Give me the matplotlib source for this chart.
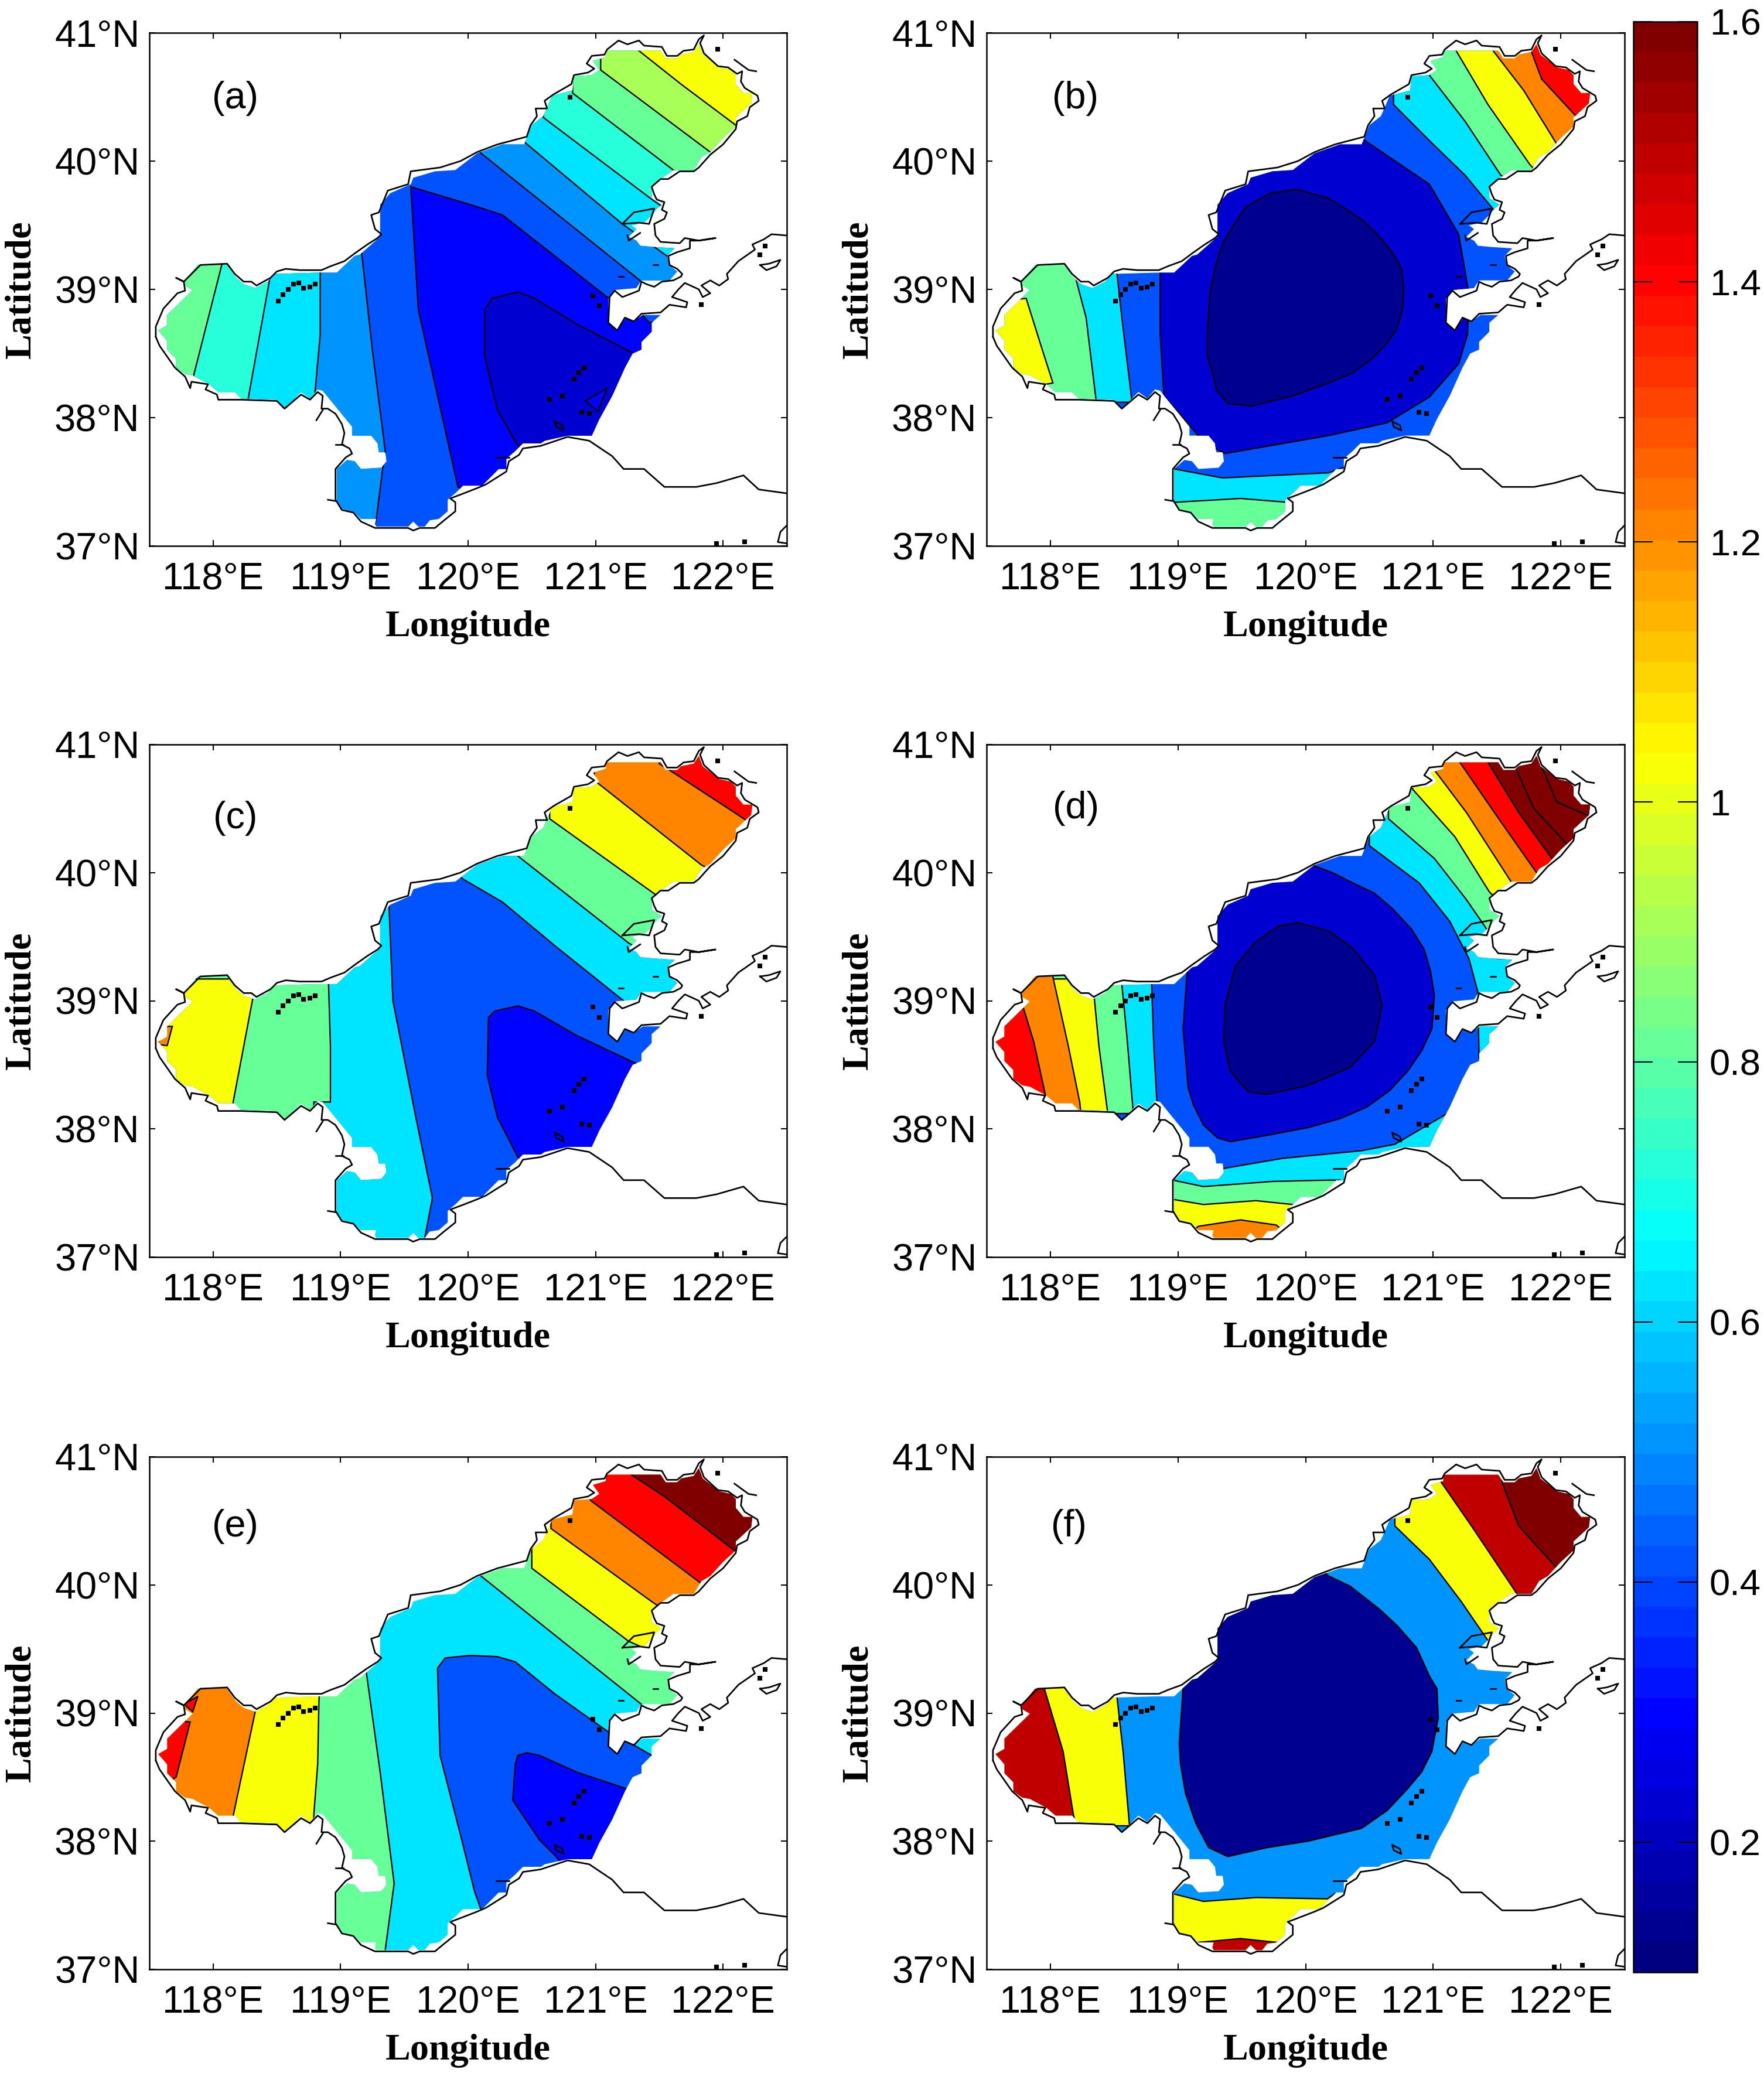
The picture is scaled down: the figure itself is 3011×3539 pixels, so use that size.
import matplotlib
matplotlib.use("Agg")
import matplotlib.pyplot as plt
from matplotlib.cm import ScalarMappable
from matplotlib.colors import LinearSegmentedColormap, Normalize
from matplotlib.patches import Polygon

FIG_W, FIG_H = 3012, 3539
AX_COLS = [(255, 1343), (1684, 2773)]
AX_ROWS = [(56, 932), (1271, 2146), (2487, 3362)]
CBAR_BOX = (2788, 2897, 37, 3367)

lon_ticks = [118, 119, 120, 121, 122]
lat_ticks = [37, 38, 39, 40, 41]
cbar_ticks = [0.2, 0.4, 0.6, 0.8, 1.0, 1.2, 1.4, 1.6]
cbar_labels = ["0.2", "0.4", "0.6", "0.8", "1", "1.2", "1.4", "1.6"]

# wet cells of the model, lon/lat
sea = [
    (117.57, 38.68), (117.64, 38.72), (117.64, 38.80), (117.84, 38.995), (117.78, 39.03), (117.78, 39.07),
    (117.88, 39.19), (118.10, 39.20), (118.18, 39.09), (118.24, 39.04), (118.33, 39.01), (118.43, 39.06),
    (118.48, 39.12), (118.82, 39.13), (118.97, 39.13), (119.11, 39.26), (119.15, 39.27), (119.31, 39.41),
    (119.31, 39.66), (119.39, 39.75), (119.55, 39.82), (119.57, 39.87), (119.74, 39.92), (119.90, 39.93),
    (120.07, 40.06), (120.27, 40.13), (120.44, 40.13), (120.46, 40.18), (120.50, 40.28), (120.59, 40.35),
    (120.66, 40.51), (120.82, 40.55), (120.83, 40.66), (120.97, 40.67), (121.03, 40.71), (120.98, 40.78),
    (121.08, 40.81), (121.08, 40.86), (121.51, 40.86), (121.55, 40.80), (121.64, 40.80), (121.67, 40.83),
    (121.77, 40.85), (121.81, 40.91), (121.84, 40.83), (121.97, 40.73), (122.06, 40.71), (122.10, 40.67),
    (122.10, 40.60), (122.16, 40.53), (122.23, 40.53), (122.22, 40.45), (122.10, 40.34), (122.10, 40.27),
    (122.00, 40.18), (121.90, 40.07), (121.83, 40.03), (121.77, 39.93), (121.61, 39.93), (121.44, 39.81),
    (121.44, 39.71), (121.52, 39.66), (121.48, 39.63), (121.44, 39.58), (121.38, 39.52), (121.28, 39.50),
    (121.32, 39.47), (121.26, 39.41), (121.32, 39.38), (121.35, 39.34), (121.46, 39.33), (121.62, 39.32),
    (121.56, 39.26), (121.57, 39.22), (121.60, 39.17), (121.64, 39.14), (121.58, 39.07), (121.36, 39.07),
    (121.32, 39.01), (121.16, 38.996), (121.10, 38.93), (121.10, 38.74), (121.17, 38.68), (121.24, 38.78),
    (121.30, 38.75), (121.37, 38.80), (121.51, 38.80), (121.44, 38.74), (121.44, 38.67), (121.36, 38.59),
    (121.36, 38.53), (121.29, 38.50), (121.23, 38.39), (121.13, 38.17), (121.03, 37.99), (120.97, 37.86),
    (120.78, 37.86), (120.60, 37.82), (120.57, 37.80), (120.43, 37.80), (120.37, 37.74), (120.30, 37.68),
    (120.30, 37.60), (120.24, 37.60), (120.11, 37.47), (119.96, 37.47), (119.91, 37.42), (119.84, 37.36),
    (119.84, 37.27), (119.77, 37.21), (119.70, 37.20), (119.66, 37.15), (119.61, 37.15), (119.57, 37.19),
    (119.53, 37.15), (119.28, 37.15), (119.27, 37.17), (119.28, 37.21), (119.16, 37.21), (119.11, 37.26),
    (119.01, 37.29), (118.97, 37.35), (118.97, 37.60), (119.05, 37.67), (119.11, 37.66), (119.16, 37.60),
    (119.32, 37.61), (119.36, 37.66), (119.35, 37.73), (119.30, 37.73), (119.29, 37.80), (119.24, 37.86),
    (119.09, 37.86), (119.09, 37.93), (118.86, 38.21), (118.82, 38.22), (118.76, 38.15), (118.69, 38.20),
    (118.56, 38.07), (118.50, 38.14), (118.22, 38.15), (118.17, 38.20), (118.04, 38.20), (117.97, 38.26),
    (117.84, 38.33), (117.78, 38.34), (117.71, 38.39), (117.71, 38.46), (117.64, 38.53), (117.64, 38.60),
]

coast_north = [
    (117.55, 38.63), (117.55, 38.71), (117.61, 38.85), (117.72, 38.97), (117.78, 38.99), (117.77, 39.06),
    (117.71, 39.09), (117.77, 39.06), (117.90, 39.19), (118.11, 39.20), (118.17, 39.12), (118.24, 39.06),
    (118.30, 39.06), (118.34, 39.03), (118.45, 39.09), (118.50, 39.14), (118.57, 39.16), (118.68, 39.15),
    (118.85, 39.15), (118.92, 39.18), (119.03, 39.22), (119.11, 39.28), (119.21, 39.35), (119.29, 39.40),
    (119.32, 39.43), (119.27, 39.47), (119.24, 39.58), (119.30, 39.60), (119.37, 39.77), (119.53, 39.82),
    (119.55, 39.92), (119.78, 39.95), (119.94, 40.00), (120.07, 40.07), (120.23, 40.13), (120.46, 40.19),
    (120.49, 40.28), (120.54, 40.35), (120.53, 40.41), (120.62, 40.41), (120.60, 40.47), (120.67, 40.52),
    (120.81, 40.60), (120.83, 40.67), (120.94, 40.69), (120.99, 40.72), (120.93, 40.76), (120.97, 40.82),
    (121.07, 40.83), (121.09, 40.87), (121.18, 40.94), (121.25, 40.91), (121.34, 40.94), (121.38, 40.90),
    (121.52, 40.89), (121.56, 40.82), (121.64, 40.82), (121.69, 40.86), (121.77, 40.87), (121.81, 40.95),
    (121.85, 40.98), (121.82, 40.92), (121.85, 40.84), (121.96, 40.74), (122.04, 40.73), (122.11, 40.68),
    (122.15, 40.70), (122.14, 40.62), (122.17, 40.57), (122.27, 40.51), (122.28, 40.47), (122.21, 40.42),
    (122.19, 40.35), (122.11, 40.31), (122.10, 40.25), (122.00, 40.13), (121.90, 40.05), (121.81, 39.95),
    (121.77, 39.92), (121.66, 39.92), (121.57, 39.86), (121.51, 39.86), (121.44, 39.80), (121.46, 39.74),
    (121.48, 39.70), (121.54, 39.68), (121.52, 39.62), (121.56, 39.60), (121.54, 39.55), (121.46, 39.51),
    (121.47, 39.42), (121.51, 39.37), (121.66, 39.36), (121.70, 39.40), (121.81, 39.38), (121.94, 39.40),
    (121.81, 39.38), (121.74, 39.38), (121.74, 39.32), (121.64, 39.29), (121.57, 39.26), (121.58, 39.19),
    (121.64, 39.16), (121.68, 39.12), (121.67, 39.10), (121.61, 39.07), (121.52, 39.06), (121.46, 39.02),
    (121.40, 39.04), (121.36, 39.06), (121.34, 38.99), (121.21, 38.94), (121.15, 38.99), (121.11, 38.94),
    (121.10, 38.74), (121.17, 38.68), (121.23, 38.78), (121.30, 38.75), (121.36, 38.81), (121.51, 38.82),
    (121.58, 38.88), (121.71, 38.86), (121.72, 38.90), (121.60, 38.94), (121.65, 39.00), (121.70, 39.05),
    (121.81, 39.00), (121.84, 38.94), (121.90, 38.97), (121.83, 39.03), (121.90, 39.07), (121.97, 39.03),
    (122.04, 39.08), (122.03, 39.12), (122.12, 39.22), (122.25, 39.31), (122.23, 39.35), (122.32, 39.39),
    (122.38, 39.43), (122.50, 39.42),
]
coast_south = [
    (117.55, 38.63), (117.58, 38.56), (117.70, 38.39), (117.78, 38.32), (117.82, 38.23), (117.83, 38.28),
    (117.96, 38.26), (117.94, 38.22), (118.03, 38.18), (118.04, 38.14), (118.22, 38.14), (118.50, 38.13),
    (118.56, 38.07), (118.69, 38.18), (118.76, 38.14), (118.82, 38.20), (118.86, 38.17), (118.85, 38.07),
    (118.90, 38.07), (118.96, 38.03), (119.01, 37.95), (119.03, 37.88), (119.01, 37.79), (119.07, 37.76),
    (119.09, 37.72), (119.04, 37.69), (118.96, 37.60), (118.96, 37.36), (119.01, 37.28), (119.10, 37.26),
    (119.16, 37.19), (119.27, 37.14), (119.53, 37.14), (119.57, 37.12), (119.62, 37.14), (119.74, 37.14),
    (119.80, 37.19), (119.90, 37.27), (119.90, 37.34), (119.86, 37.37), (119.94, 37.40), (120.07, 37.45),
    (120.14, 37.48), (120.30, 37.58), (120.32, 37.66), (120.40, 37.71), (120.43, 37.76), (120.57, 37.78),
    (120.78, 37.85), (120.95, 37.82), (121.13, 37.70), (121.22, 37.60), (121.38, 37.60), (121.54, 37.46),
    (121.79, 37.46), (121.95, 37.49), (122.16, 37.55), (122.28, 37.44), (122.50, 37.41),
]
coast_bits = [
    [(122.50, 37.16), (122.45, 37.11), (122.43, 37.03), (122.50, 37.02)],
    [(122.09, 40.79), (122.20, 40.71), (122.26, 40.70)],
    [(121.21, 39.51), (121.30, 39.60), (121.46, 39.63), (121.42, 39.51), (121.34, 39.52), (121.21, 39.51)],
    [(121.25, 39.42), (121.26, 39.38), (121.35, 39.44)],
    [(122.29, 39.19), (122.34, 39.15), (122.42, 39.18), (122.45, 39.23), (122.36, 39.20), (122.29, 39.19)],
    [(120.22, 37.69), (120.32, 37.69)],
    [(118.96, 37.79), (119.02, 37.79)],
    [(118.81, 37.98), (118.86, 38.06)],
    [(118.90, 37.36), (118.96, 37.35)],
    [(121.18, 39.10), (121.22, 39.10)],
    [(121.45, 39.19), (121.49, 39.19)],
    [(120.68, 37.97), (120.74, 37.94), (120.75, 37.90), (120.69, 37.93), (120.68, 37.97)],
]

island_lon = [118.51, 118.55, 118.59, 118.63, 118.67, 118.71, 118.76, 118.80, 120.83, 120.87, 120.91, 120.74,
              120.64, 120.89, 120.95, 120.98, 121.03, 120.80, 121.96, 121.83, 122.29, 122.33, 121.95, 122.17]
island_lat = [38.91, 38.96, 39.00, 39.04, 39.05, 39.01, 39.02, 39.04, 38.30, 38.35, 38.39, 38.17,
              38.14, 38.04, 38.03, 38.95, 38.87, 40.50, 40.87, 38.88, 39.27, 39.34, 37.02, 37.03]

# bands are (value, side, outline); side says how the outline closes beyond the coast
base_a = 0.405
bands_a = [
    (0.29, "closed", [(119.55, 39.80), (120.02, 39.66), (120.27, 39.58), (121.09, 38.94), (121.25, 38.85),
                      (121.37, 38.80), (121.42, 38.74), (121.54, 38.76), (121.67, 38.71), (122.08, 37.67),
                      (120.44, 37.18), (119.92, 37.46), (119.61, 38.84)]),
    (0.22, "closed", [(120.13, 38.48), (120.13, 38.84), (120.19, 38.93), (120.39, 38.98), (120.52, 38.93),
                      (120.85, 38.73), (121.30, 38.50), (121.67, 38.39), (122.08, 37.67), (120.85, 37.34),
                      (120.39, 37.78), (120.23, 38.06)]),
    (0.29, "closed", [(120.92, 38.13), (121.09, 38.23), (121.02, 38.05)]),
    (0.52, "w", [(119.14, 39.45), (119.16, 39.33), (119.25, 38.52), (119.35, 37.74), (119.33, 37.60),
                 (119.28, 37.21), (119.20, 36.95)]),
    (0.62, "w", [(118.84, 39.30), (118.84, 38.65), (118.80, 38.21), (118.79, 37.99)]),
    (0.71, "w", [(118.49, 39.30), (118.46, 39.17), (118.27, 38.12)]),
    (0.81, "w", [(118.10, 39.30), (118.07, 39.20), (117.85, 38.34), (117.81, 38.12)]),
    (0.52, "ne", [(120.09, 40.07), (121.36, 39.06), (121.67, 38.91)]),
    (0.62, "ne", [(120.44, 40.15), (121.21, 39.51), (121.56, 39.26), (121.66, 39.19)]),
    (0.71, "ne", [(120.59, 40.34), (121.43, 39.71), (121.67, 39.54)]),
    (0.81, "ne", [(120.82, 40.53), (121.61, 39.93), (121.83, 39.77)]),
    (0.92, "ne", [(121.04, 40.71), (121.90, 40.07), (122.08, 39.92)]),
    (1.015, "ne", [(121.24, 40.93), (121.34, 40.86), (121.67, 40.60), (122.10, 40.28), (122.28, 40.15)]),
]

base_b = 0.405
bands_b = [
    (0.22, "closed", [(118.86, 39.30), (118.86, 38.65), (118.89, 38.17), (119.21, 37.80), (119.37, 37.72),
                      (120.18, 37.86), (120.64, 37.96), (120.97, 38.16), (121.20, 38.42), (121.27, 38.65),
                      (121.28, 38.97), (121.20, 39.43), (120.97, 39.82), (120.48, 40.15), (120.32, 40.28),
                      (119.58, 40.11)]),
    (0.13, "closed", [(119.93, 39.78), (120.18, 39.71), (120.31, 39.63), (120.46, 39.53), (120.58, 39.41),
                      (120.67, 39.30), (120.75, 39.17), (120.77, 39.01), (120.76, 38.84), (120.71, 38.68),
                      (120.62, 38.56), (120.51, 38.45), (120.37, 38.35), (120.18, 38.27), (119.90, 38.17),
                      (119.58, 38.09), (119.39, 38.11), (119.30, 38.22), (119.28, 38.32), (119.23, 38.48),
                      (119.23, 38.65), (119.25, 38.97), (119.30, 39.20), (119.35, 39.36), (119.43, 39.49),
                      (119.53, 39.64), (119.72, 39.75)]),
    (0.62, "w", [(118.51, 39.23), (118.56, 38.78), (118.64, 38.12)]),
    (0.81, "w", [(118.16, 39.23), (118.28, 38.78), (118.36, 38.12)]),
    (1.015, "closed", [(117.81, 38.93), (117.93, 38.55), (118.02, 38.27), (117.72, 38.22), (117.26, 38.65),
                       (117.63, 38.91)]),
    (0.62, "ne", [(120.69, 40.44), (120.97, 40.16), (121.25, 39.89), (121.50, 39.59), (121.71, 39.36)]),
    (0.81, "ne", [(120.97, 40.67), (121.25, 40.31), (121.53, 39.89), (121.60, 39.85)]),
    (1.015, "ne", [(121.18, 40.86), (121.43, 40.44), (121.76, 39.97), (121.90, 39.82)]),
    (1.206, "ne", [(121.47, 40.86), (121.71, 40.55), (121.97, 40.13), (122.08, 39.99)]),
    (1.41, "ne", [(121.76, 40.88), (121.85, 40.64), (122.11, 40.36), (122.27, 40.28)]),
    (0.62, "s", [(118.84, 37.64), (118.97, 37.60), (119.35, 37.53), (119.76, 37.55), (120.18, 37.57), (120.32, 37.62)]),
    (0.81, "s", [(118.84, 37.36), (118.97, 37.34), (119.49, 37.37), (119.86, 37.34), (119.95, 37.32)]),
]

base_c = 0.405
bands_c = [
    (0.29, "closed", [(120.16, 38.87), (120.21, 38.92), (120.39, 38.96), (120.52, 38.92), (120.85, 38.73),
                      (121.32, 38.51), (121.67, 38.39), (122.08, 37.67), (120.85, 37.34), (120.39, 37.78),
                      (120.23, 38.09), (120.15, 38.42)]),
    (0.62, "w", [(119.38, 39.82), (119.38, 39.72), (119.41, 39.00), (119.59, 38.09), (119.72, 37.46),
                 (119.66, 37.15), (119.61, 36.95)]),
    (0.81, "w", [(118.90, 39.30), (118.92, 38.65), (118.92, 38.21), (118.79, 38.21), (118.79, 38.00)]),
    (1.015, "w", [(118.34, 39.17), (118.14, 38.12)]),
    (1.206, "closed", [(117.64, 38.80), (117.68, 38.80), (117.64, 38.65), (117.56, 38.66)]),
    (0.62, "ne", [(119.90, 40.00), (119.96, 39.95), (120.27, 39.77), (120.68, 39.43), (121.22, 39.00), (121.34, 38.91)]),
    (0.81, "ne", [(120.39, 40.13), (121.26, 39.45), (121.46, 39.34), (121.71, 39.33)]),
    (1.015, "ne", [(120.64, 40.42), (121.44, 39.85), (121.67, 39.69)]),
    (1.206, "ne", [(120.99, 40.72), (121.83, 40.06), (122.04, 39.95)]),
    (1.41, "ne", [(121.50, 40.85), (121.58, 40.80), (122.18, 40.41), (122.41, 40.28)]),
]

base_d = 0.405
bands_d = [
    (0.22, "closed", [(119.07, 39.30), (119.07, 39.20), (119.04, 38.78), (119.06, 38.55), (119.08, 38.32),
                      (119.12, 38.19), (119.20, 38.03), (119.31, 37.93), (119.41, 37.90), (119.70, 37.95),
                      (120.02, 38.01), (120.27, 38.08), (120.48, 38.17), (120.66, 38.30), (120.80, 38.45),
                      (120.91, 38.61), (120.99, 38.78), (121.01, 39.04), (120.98, 39.23), (120.93, 39.40),
                      (120.83, 39.56), (120.68, 39.72), (120.54, 39.84), (120.35, 39.93), (120.21, 40.00),
                      (120.05, 40.06), (119.94, 40.18), (119.20, 39.79)]),
    (0.13, "closed", [(119.94, 39.61), (120.19, 39.54), (120.37, 39.41), (120.54, 39.20), (120.60, 38.97),
                      (120.54, 38.68), (120.35, 38.48), (120.02, 38.34), (119.70, 38.27), (119.55, 38.29),
                      (119.41, 38.45), (119.36, 38.68), (119.37, 38.97), (119.45, 39.27), (119.61, 39.46),
                      (119.78, 39.58)]),
    (0.62, "w", [(118.79, 39.23), (118.81, 38.65), (118.84, 38.12)]),
    (0.81, "w", [(118.55, 39.23), (118.60, 38.72), (118.65, 38.12)]),
    (1.015, "w", [(118.33, 39.17), (118.38, 38.65), (118.45, 38.12)]),
    (1.206, "w", [(118.01, 39.23), (118.14, 38.65), (118.23, 38.21), (118.24, 38.12)]),
    (1.41, "closed", [(117.79, 38.94), (117.87, 38.68), (117.96, 38.27), (117.99, 38.12), (117.48, 38.12),
                      (117.32, 38.65), (117.64, 38.97)]),
    (0.62, "ne", [(120.50, 40.21), (120.89, 39.92), (121.13, 39.62), (121.28, 39.33), (121.35, 39.07), (121.36, 38.55)]),
    (0.81, "ne", [(120.65, 40.42), (121.01, 40.11), (121.26, 39.79), (121.44, 39.53), (121.50, 39.33), (121.71, 39.33)]),
    (1.015, "ne", [(120.84, 40.65), (121.17, 40.28), (121.44, 39.85), (121.54, 39.75)]),
    (1.206, "ne", [(121.01, 40.80), (121.26, 40.47), (121.61, 39.93), (121.71, 39.85)]),
    (1.41, "ne", [(121.21, 40.86), (121.50, 40.44), (121.81, 40.00), (121.91, 39.92)]),
    (1.6, "ne", [(121.43, 40.86), (121.67, 40.47), (121.93, 40.11), (122.08, 39.98)]),
    (1.6, "ne", [(121.65, 40.81), (121.79, 40.50), (122.06, 40.21), (122.16, 40.13)]),
    (1.6, "ne", [(121.85, 40.83), (121.97, 40.55), (122.23, 40.44)]),
    (0.62, "s", [(118.79, 37.68), (119.35, 37.69), (119.82, 37.77), (120.44, 37.83), (120.70, 37.88),
                 (121.11, 38.12), (121.67, 38.12)]),
    (0.81, "s", [(118.96, 37.60), (119.20, 37.55), (119.74, 37.59), (120.17, 37.60), (120.27, 37.60)]),
    (1.015, "s", [(118.96, 37.45), (119.20, 37.41), (119.61, 37.44), (119.90, 37.41), (120.02, 37.44)]),
    (1.206, "s", [(119.12, 37.21), (119.16, 37.24), (119.49, 37.29), (119.77, 37.25), (119.82, 37.21)]),
]

base_e = 0.62
bands_e = [
    (0.405, "closed", [(119.82, 39.43), (120.02, 39.45), (120.23, 39.44), (120.37, 39.40), (120.68, 39.15),
                       (121.09, 38.86), (121.30, 38.75), (121.44, 38.67), (121.67, 38.54), (122.08, 37.72),
                       (120.44, 37.23), (120.11, 37.44), (120.05, 37.61), (119.94, 38.05), (119.78, 38.67),
                       (119.76, 39.35)]),
    (0.29, "closed", [(120.37, 38.60), (120.39, 38.67), (120.46, 38.69), (120.56, 38.67), (120.85, 38.54),
                      (121.24, 38.41), (121.67, 38.38), (122.08, 37.72), (121.05, 37.39), (120.69, 37.88),
                      (120.56, 38.01), (120.35, 38.32)]),
    (0.81, "w", [(119.18, 39.50), (119.20, 39.33), (119.31, 38.54), (119.42, 37.67), (119.35, 37.15), (119.32, 36.95)]),
    (1.015, "w", [(118.84, 39.30), (118.83, 39.09), (118.82, 38.60), (118.79, 38.21), (118.78, 38.00)]),
    (1.206, "w", [(118.35, 39.30), (118.33, 39.01), (118.16, 38.21), (118.14, 38.12)]),
    (1.41, "closed", [(117.82, 38.93), (117.71, 38.50), (117.55, 38.40), (117.40, 38.67), (117.64, 38.95)]),
    (1.41, "closed", [(117.88, 39.13), (117.84, 39.01), (117.77, 39.07)]),
    (0.81, "ne", [(120.10, 40.07), (121.37, 39.06), (121.67, 38.89)]),
    (1.015, "ne", [(120.50, 40.13), (121.26, 39.56), (121.67, 39.38), (121.75, 39.38)]),
    (1.206, "ne", [(120.65, 40.44), (121.44, 39.87), (121.63, 39.74)]),
    (1.41, "ne", [(120.96, 40.66), (121.83, 40.01), (122.04, 39.87)]),
    (1.6, "ne", [(121.28, 40.86), (121.54, 40.69), (122.10, 40.26), (122.28, 40.17)]),
]

base_f = 0.52
bands_f = [
    (0.13, "closed", [(119.04, 39.20), (119.01, 38.76), (119.02, 38.60), (119.06, 38.37), (119.14, 38.14),
                      (119.24, 37.95), (119.39, 37.88), (119.70, 37.95), (120.02, 38.00), (120.44, 38.10),
                      (120.64, 38.24), (120.80, 38.41), (120.91, 38.54), (120.99, 38.70), (121.04, 38.96),
                      (121.03, 39.19), (120.97, 39.29), (120.87, 39.51), (120.72, 39.68), (120.58, 39.81),
                      (120.35, 39.99), (120.18, 40.07), (120.02, 40.23), (119.20, 39.68)]),
    (1.015, "w", [(118.51, 39.23), (118.57, 38.70), (118.62, 38.12)]),
    (1.506, "w", [(117.93, 39.30), (117.95, 39.20), (118.10, 38.70), (118.18, 38.21), (118.20, 38.13)]),
    (1.015, "ne", [(120.70, 40.46), (120.97, 40.20), (121.22, 39.87), (121.44, 39.55), (121.63, 39.35)]),
    (1.506, "ne", [(121.05, 40.82), (121.30, 40.46), (121.65, 39.94), (121.75, 39.84)]),
    (1.6, "ne", [(121.54, 40.80), (121.67, 40.46), (121.97, 40.13), (122.08, 40.10)]),
    (1.015, "s", [(118.88, 37.62), (118.96, 37.59), (119.20, 37.53), (119.61, 37.56), (120.17, 37.55), (120.23, 37.59)]),
    (1.506, "s", [(119.16, 37.21), (119.49, 37.24), (119.78, 37.21)]),
]

panels = [
    ("(a)", base_a, bands_a, 0.135, 0.872),
    ("(b)", base_b, bands_b, 0.139, 0.872),
    ("(c)", base_c, bands_c, 0.135, 0.856),
    ("(d)", base_d, bands_d, 0.140, 0.876),
    ("(e)", base_e, bands_e, 0.135, 0.864),
    ("(f)", base_f, bands_f, 0.129, 0.864),
]

plt.rcParams["font.family"] = "Liberation Sans"
plt.rcParams["axes.linewidth"] = 0.6

# MATLAB jet with 64 steps
jet64 = LinearSegmentedColormap.from_list(
    "jet64",
    [(0, (0, 0, 0.5)), (0.125, (0, 0, 1)), (0.375, (0, 1, 1)), (0.625, (1, 1, 0)), (0.875, (1, 0, 0)), (1, (0.5, 0, 0))],
    N=64,
)
norm = Normalize(0.1, 1.6)


def close_band(side, pts):
    xs = [p[0] for p in pts]
    ys = [p[1] for p in pts]
    if side == "ne":
        xs += [122.9, 122.9, xs[0]]
        ys += [ys[-1], 41.5, 41.5]
    elif side == "w":
        xs += [117.0, 117.0]
        ys += [ys[-1], ys[0]]
    elif side == "s":
        xs += [xs[-1], xs[0]]
        ys += [36.8, 36.8]
    return list(zip(xs, ys))


fig = plt.figure(figsize=(FIG_W / 300, FIG_H / 300), dpi=300)

for i, (label, base, bands, tx, ty) in enumerate(panels):
    x0, x1 = AX_COLS[i % 2]
    y0, y1 = AX_ROWS[i // 2]
    ax = fig.add_axes([x0 / FIG_W, 1 - y1 / FIG_H, (x1 - x0) / FIG_W, (y1 - y0) / FIG_H])

    sea_patch = Polygon(sea, closed=True, facecolor=jet64(norm(base)), edgecolor="none", zorder=1)
    ax.add_patch(sea_patch)

    for k, (value, side, pts) in enumerate(bands):
        band = Polygon(close_band(side, pts), closed=True, facecolor=jet64(norm(value)),
                       edgecolor="black", linewidth=0.55, zorder=2 + k * 0.01)
        ax.add_patch(band)
        band.set_clip_path(sea_patch)

    for line in [coast_north, coast_south] + coast_bits:
        ax.plot([p[0] for p in line], [p[1] for p in line], color="black", lw=0.65, zorder=4)
    ax.scatter(island_lon, island_lat, s=3, c="black", marker="s", linewidths=0, zorder=4)

    ax.set_xlim(117.5, 122.5)
    ax.set_ylim(37, 41)
    ax.set_xticks(lon_ticks)
    ax.set_yticks(lat_ticks)
    ax.set_xticklabels([f"{v}°E" for v in lon_ticks])
    ax.set_yticklabels([f"{v}°N" for v in lat_ticks])
    ax.tick_params(direction="in", length=2.5, width=0.5, top=True, right=True, labelsize=15.6)
    ax.tick_params(axis="x", pad=6.5)
    ax.tick_params(axis="y", pad=4)

    ax.set_xlabel("Longitude", family="Liberation Serif", weight="bold", fontsize=15.4, va="center")
    ax.set_ylabel("Latitude", family="Liberation Serif", weight="bold", fontsize=15.4, va="center")
    ax.xaxis.set_label_coords(0.5, -0.159)
    ax.yaxis.set_label_coords(-0.201, 0.5)

    ax.text(tx, ty, label, transform=ax.transAxes, ha="center", va="center", fontsize=15.5)

# colorbar
cx0, cx1, cy0, cy1 = CBAR_BOX
cax = fig.add_axes([cx0 / FIG_W, 1 - cy1 / FIG_H, (cx1 - cx0) / FIG_W, (cy1 - cy0) / FIG_H])
cb = fig.colorbar(ScalarMappable(norm=norm, cmap=jet64), cax=cax, ticks=cbar_ticks)
cb.ax.set_yticklabels(cbar_labels)
cb.outline.set_linewidth(0.6)
cb.ax.tick_params(direction="in", length=8, width=0.5, left=True, right=True, labelsize=15.2, pad=5)

fig.savefig("out.png", dpi=300)
